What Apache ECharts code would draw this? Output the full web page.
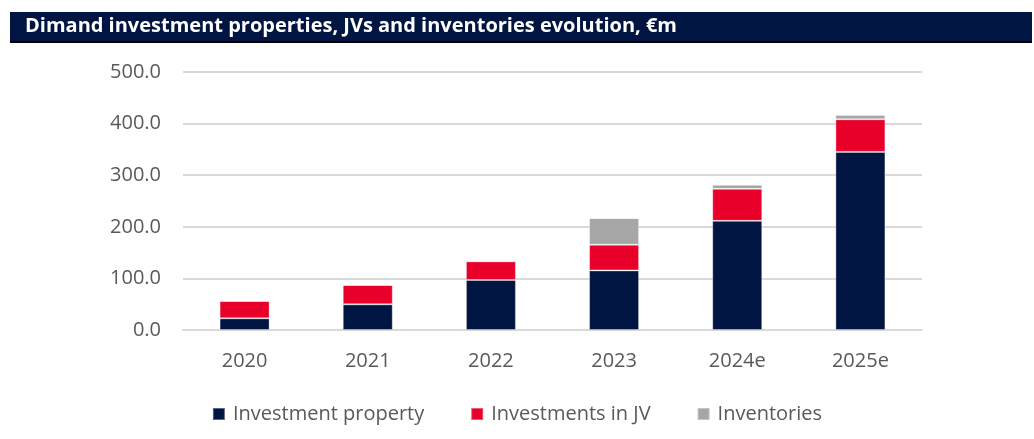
<!DOCTYPE html>
<html>
<head>
<meta charset="utf-8">
<script src="https://cdn.jsdelivr.net/npm/echarts@6/dist/echarts.min.js"></script>
<style>
  html, body { margin: 0; padding: 0; background: #fff; }
  #chart { width: 1034px; height: 439px; }
</style>
</head>
<body>
<div id="chart"></div>
<script>
const categories = ["2020", "2021", "2022", "2023", "2024e", "2025e"];
const investmentProperty = [22.6, 49.7, 97.0, 115.5, 211.6, 345.2];
const investmentsInJV = [33.5, 37.4, 36.0, 49.7, 61.9, 63.2];
const inventories = [0, 0, 0, 51.6, 7.8, 8.4];

const FONT = "'Open Sans', Lato, sans-serif";
const LABEL_COLOR = "#595959";

const chart = echarts.init(document.getElementById("chart"));

const barSeries = (name, data, color) => ({
  name: name,
  type: "bar",
  stack: "total",
  data: data,
  barWidth: 50,
  itemStyle: { color: color, borderColor: "rgba(255,255,255,0.35)", borderWidth: 1 },
});

chart.setOption({
  animation: false,
  graphic: [
    {
      type: "rect",
      left: 10,
      top: 12,
      shape: { width: 1022, height: 29 },
      style: { fill: "#001541" },
    },
    {
      type: "rect",
      left: 10,
      top: 41,
      shape: { width: 1022, height: 2 },
      style: { fill: "#000000" },
    },
    {
      type: "text",
      left: 25,
      top: 16,
      style: {
        text: "Dimand investment properties, JVs and inventories evolution, €m",
        fill: "#ffffff",
        font: "bold 20px " + FONT,
      },
    },
  ],
  grid: { left: 183, right: 112, top: 72, bottom: 109 },
  legend: {
    bottom: 10,
    left: "center",
    itemWidth: 12,
    itemHeight: 12,
    itemGap: 46,
    icon: "rect",
    textStyle: { fontFamily: FONT, fontSize: 20, color: LABEL_COLOR, padding: [0, 0, 0, 3] },
    data: ["Investment property", "Investments in JV", "Inventories"],
  },
  xAxis: {
    type: "category",
    data: categories,
    axisLine: { lineStyle: { color: "#d9d9d9", width: 2 } },
    axisTick: { show: false },
    axisLabel: { margin: 21, fontFamily: FONT, fontSize: 20, color: LABEL_COLOR },
  },
  yAxis: {
    type: "value",
    min: 0,
    max: 500,
    interval: 100,
    axisLine: { show: false },
    axisTick: { show: false },
    splitLine: { lineStyle: { color: "#d9d9d9", width: 2 } },
    axisLabel: {
      margin: 22,
      fontFamily: FONT,
      fontSize: 20,
      color: LABEL_COLOR,
      formatter: (v) => v.toFixed(1),
    },
  },
  series: [
    barSeries("Investment property", investmentProperty, "#001541"),
    barSeries("Investments in JV", investmentsInJV, "#e8002a"),
    barSeries("Inventories", inventories, "#a6a6a6"),
  ],
});
</script>
</body>
</html>
